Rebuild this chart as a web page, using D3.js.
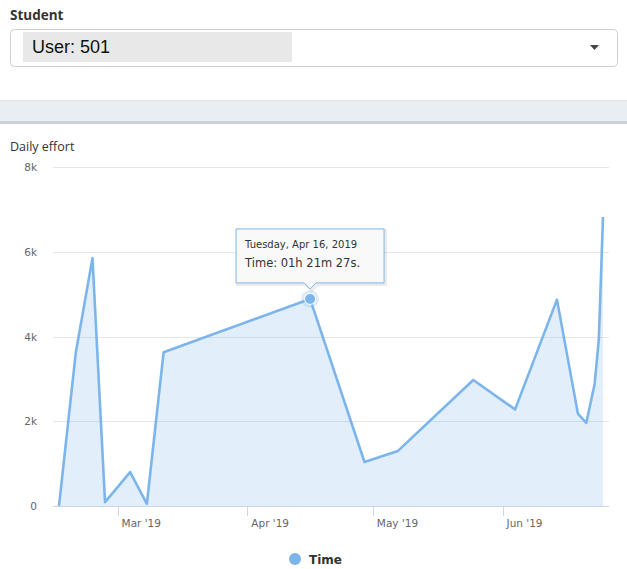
<!DOCTYPE html>
<html>
<head>
<meta charset="utf-8">
<script src="https://cdn.jsdelivr.net/npm/d3@7"></script>
<style>
  html, body { margin: 0; padding: 0; background: #fff; }
  svg { display: block; }
</style>
</head>
<body>
<svg id="chart" width="627" height="569"></svg>
<script>
// Daily effort of the selected student, in seconds per day
const dates = ["2019-02-15","2019-02-19","2019-02-23","2019-02-26","2019-03-04","2019-03-08",
  "2019-03-12","2019-04-16","2019-04-29","2019-05-07","2019-05-25","2019-06-04",
  "2019-06-14","2019-06-19","2019-06-21","2019-06-23","2019-06-24","2019-06-25"];
const seconds = [0, 3610, 5850, 90, 800, 50, 3630, 4887, 1038, 1300, 2973, 2280,
  4870, 2180, 1960, 2880, 3930, 6820];
const yTicks = [0, 2000, 4000, 6000, 8000];
const yTickLabels = ["0", "2k", "4k", "6k", "8k"];
const xTicks = ["2019-03-01", "2019-04-01", "2019-05-01", "2019-06-01"];
const xTickLabels = ["Mar '19", "Apr '19", "May '19", "Jun '19"];
const studentLabel = "User: 501";
const chartTitle = "Daily effort";
const seriesName = "Time";
const hoverIndex = 7;

const parse = d3.utcParse("%Y-%m-%d");
const data = dates.map((d, i) => ({ date: parse(d), value: seconds[i] }));

const svg = d3.select("#chart");
const color = "#7cb5ec";

// ---- header: student selector ----
svg.append("text").attr("x", 10).attr("y", 20)
  .attr("font-family", "'Open Sans', sans-serif").attr("font-weight", 700)
  .attr("font-size", 13.5).attr("fill", "#333").text("Student");

svg.append("rect").attr("x", 10.5).attr("y", 29.5).attr("width", 607).attr("height", 37)
  .attr("rx", 4).attr("fill", "#fff").attr("stroke", "#cfcfcf");
svg.append("rect").attr("x", 23).attr("y", 32).attr("width", 269).attr("height", 30)
  .attr("fill", "#e8e8e8");
svg.append("text").attr("x", 32).attr("y", 53)
  .attr("font-family", "'Liberation Sans', Arial, sans-serif")
  .attr("font-size", 18).attr("fill", "#111").text(studentLabel);
svg.append("path").attr("d", "M590,45 L599,45 L594.5,50 Z").attr("fill", "#444");

// ---- divider band ----
svg.append("rect").attr("x", 0).attr("y", 100).attr("width", 627).attr("height", 22)
  .attr("fill", "#e9eef3");
svg.append("line").attr("x1", 0).attr("x2", 627).attr("y1", 100.5).attr("y2", 100.5)
  .attr("stroke", "#dde3e8");
svg.append("rect").attr("x", 0).attr("y", 121).attr("width", 627).attr("height", 3)
  .attr("fill", "#cdd0d3");

// ---- chart ----
svg.append("text").attr("x", 10).attr("y", 151)
  .attr("font-family", "'Open Sans', sans-serif")
  .attr("font-size", 12.5).attr("fill", "#333").text(chartTitle);

const x = d3.scaleUtc()
  .domain(d3.extent(data, d => d.date))
  .range([59, 603]);
const y = d3.scaleLinear().domain([0, 8000]).range([506, 167]);

const gridLeft = 53, gridRight = 609;

// horizontal grid lines
svg.append("g").selectAll("line").data(yTicks.slice(1)).join("line")
  .attr("x1", gridLeft).attr("x2", gridRight)
  .attr("y1", d => Math.round(y(d)) + 0.5).attr("y2", d => Math.round(y(d)) + 0.5)
  .attr("stroke", "#e6e6e6");

// y labels
svg.append("g").selectAll("text").data(yTicks).join("text")
  .attr("x", 37).attr("y", d => y(d) + 4)
  .attr("text-anchor", "end")
  .attr("font-family", "'DejaVu Sans', Verdana, sans-serif")
  .attr("font-size", 10.5).attr("fill", "#666")
  .text((d, i) => yTickLabels[i]);

// area + line
const area = d3.area().x(d => x(d.date)).y0(y(0)).y1(d => y(d.value));
const line = d3.line().x(d => x(d.date)).y(d => y(d.value));

svg.append("path").datum(data).attr("d", area)
  .attr("fill", color).attr("fill-opacity", 0.22);
svg.append("path").datum(data).attr("d", line)
  .attr("fill", "none").attr("stroke", color).attr("stroke-width", 2.6)
  .attr("stroke-linejoin", "round");

// x axis line and ticks
svg.append("line").attr("x1", gridLeft).attr("x2", gridRight)
  .attr("y1", 506.5).attr("y2", 506.5).attr("stroke", "#ccd6eb");
const xt = xTicks.map(parse);
svg.append("g").selectAll("line").data(xt).join("line")
  .attr("x1", d => Math.round(x(d)) + 0.5).attr("x2", d => Math.round(x(d)) + 0.5)
  .attr("y1", 507).attr("y2", 516).attr("stroke", "#ccd6eb");
svg.append("g").selectAll("text").data(xt).join("text")
  .attr("x", d => x(d) + 4).attr("y", 527)
  .attr("font-family", "'DejaVu Sans', Verdana, sans-serif")
  .attr("font-size", 10.5).attr("fill", "#666")
  .text((d, i) => xTickLabels[i]);

// hovered point
const hp = data[hoverIndex];
const hx = x(hp.date), hy = y(hp.value);
svg.append("circle").attr("cx", hx).attr("cy", hy).attr("r", 9)
  .attr("fill", color).attr("fill-opacity", 0.25);
svg.append("circle").attr("cx", hx).attr("cy", hy).attr("r", 5.5)
  .attr("fill", color).attr("stroke", "#fff").attr("stroke-width", 1);

// tooltip
const fmtDate = d3.utcFormat("%A, %b %-d, %Y");
const secs = hp.value;
const pad = n => String(n).padStart(2, "0");
const timeText = `Time: ${pad(Math.floor(secs / 3600))}h ${pad(Math.floor(secs % 3600 / 60))}m ${pad(secs % 60)}s.`;

const tw = 148, th = 54;
const tx = hx - tw / 2, ty = hy - 70;
const tip = svg.append("g");
const tipPath = `M${tx},${ty} h${tw} v${th} h${-(tw / 2 - 6)} l-6,6 l-6,-6 h${-(tw / 2 - 6)} Z`;
tip.append("path").attr("d", tipPath).attr("transform", "translate(1.5,1.5)")
  .attr("fill", "none").attr("stroke", "#000").attr("stroke-opacity", 0.08).attr("stroke-width", 3);
tip.append("path").attr("d", tipPath)
  .attr("fill", "#f9f9f9").attr("fill-opacity", 0.95)
  .attr("stroke", color).attr("stroke-width", 1);
tip.append("text").attr("x", tx + 9).attr("y", ty + 19)
  .attr("font-family", "'DejaVu Sans', Verdana, sans-serif")
  .attr("font-size", 10).attr("fill", "#333").text(fmtDate(hp.date));
tip.append("text").attr("x", tx + 9).attr("y", ty + 38)
  .attr("font-family", "'DejaVu Sans', Verdana, sans-serif")
  .attr("font-size", 11.5).attr("fill", "#333").text(timeText);

// legend
svg.append("circle").attr("cx", 295).attr("cy", 559).attr("r", 6).attr("fill", color);
svg.append("text").attr("x", 309).attr("y", 564)
  .attr("font-family", "'DejaVu Sans', Verdana, sans-serif").attr("font-weight", 700)
  .attr("font-size", 12).attr("fill", "#333").text(seriesName);
</script>
</body>
</html>
